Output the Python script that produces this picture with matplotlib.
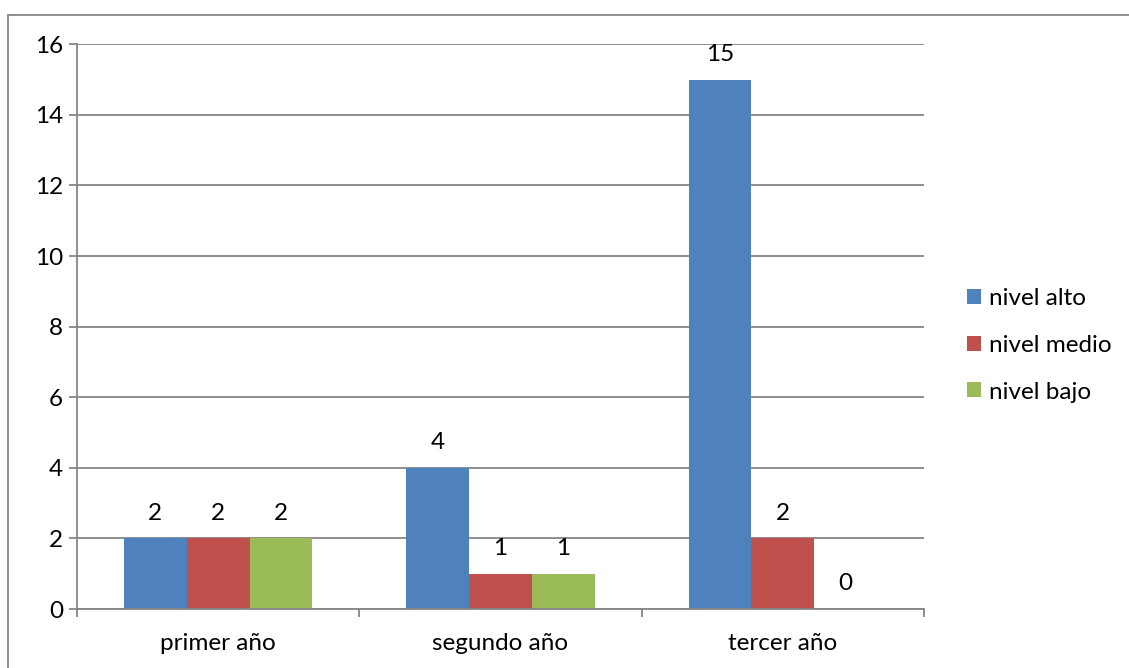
import numpy as np
import matplotlib.pyplot as plt
from matplotlib.patches import Rectangle

# Datos del gráfico
categorias = ['primer año', 'segundo año', 'tercer año']
series = ['nivel alto', 'nivel medio', 'nivel bajo']
nivel_alto = [2, 4, 15]
nivel_medio = [2, 1, 2]
nivel_bajo = [2, 1, 0]
colores = ['#4F81BD', '#C0504D', '#9BBB59']

plt.rcParams['font.family'] = ['Lato', 'DejaVu Sans']
plt.rcParams['font.size'] = 17.5

W, H = 1129, 668
fig = plt.figure(figsize=(W / 100, H / 100), dpi=100)
ax = fig.add_axes([77 / W, 1 - 609 / H, (924 - 77) / W, (609 - 44.3) / H])

x = np.arange(len(categorias))
ancho = 1 / 4.5
valores = [nivel_alto, nivel_medio, nivel_bajo]
for i, (nombre, vals) in enumerate(zip(series, valores)):
    pos = x + (i - 1) * ancho
    ax.bar(pos, vals, width=ancho, color=colores[i], label=nombre, zorder=3)
    for p, v in zip(pos, vals):
        ax.annotate(str(v), (p, v), xytext=(0, 18), textcoords='offset points',
                    ha='center', va='center', color='black')

ax.set_xlim(-0.5, 2.5)
ax.set_ylim(0, 16)
ax.set_yticks(range(0, 17, 2))
ax.set_xticks(x)
ax.set_xticklabels(categorias)
ax.set_xticks([-0.5, 0.5, 1.5, 2.5], minor=True)
ax.tick_params(axis='x', which='major', length=0, pad=17)
ax.tick_params(axis='x', which='minor', length=6, width=1.3, color='#868686')
ax.tick_params(axis='y', length=6, width=1.3, color='#868686', pad=4)
ax.yaxis.grid(True, color='#868686', linewidth=1.3, zorder=0)
for s in ['top', 'right']:
    ax.spines[s].set_visible(False)
for s in ['left', 'bottom']:
    ax.spines[s].set_color('#868686')
    ax.spines[s].set_linewidth(1.3)
    ax.spines[s].set_zorder(4)

ax.legend(loc='center left', bbox_to_anchor=(967 / W, 1 - 345.5 / H),
          bbox_transform=fig.transFigure, frameon=False, borderpad=0,
          borderaxespad=0, handlelength=0.58, handleheight=0.58,
          handletextpad=0.33, labelspacing=1.05)

# Marco exterior del gráfico
fig.patches.append(Rectangle((8 / W, -0.1), 1.2, 1.1 - 15 / H, transform=fig.transFigure,
                             fill=False, edgecolor='#878787', linewidth=1.3))

fig.savefig('out.png', dpi=100)
